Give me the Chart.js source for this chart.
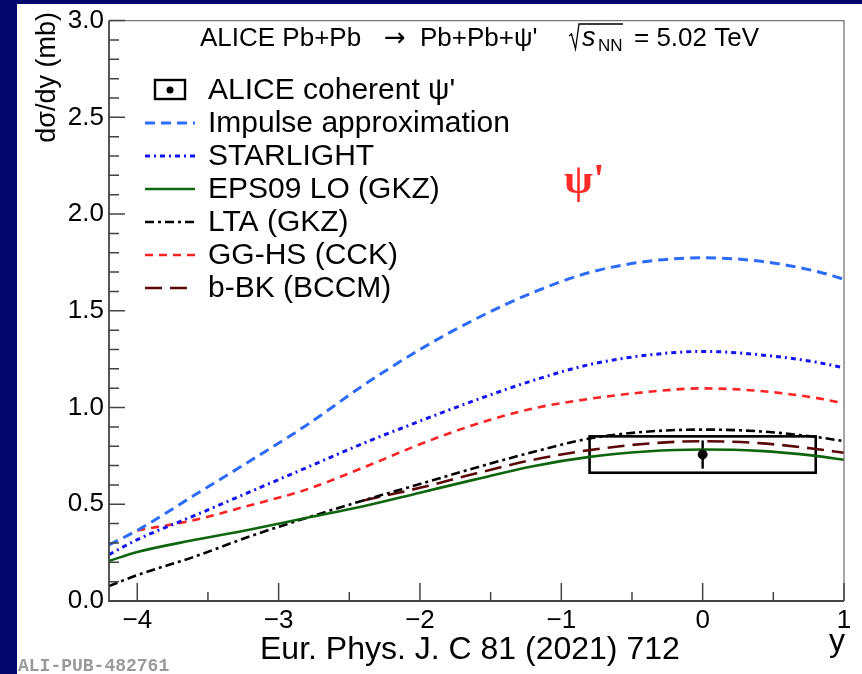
<!DOCTYPE html>
<html>
<head>
<meta charset="utf-8">
<script src="https://cdn.jsdelivr.net/npm/chart.js@4.4.1/dist/chart.umd.min.js"></script>
<style>
  html, body { margin: 0; padding: 0; background: #05056e; }
  canvas { display: block; }
</style>
</head>
<body>
<canvas id="c" width="862" height="674"></canvas>
<script>
// Rapidity grid of the model curves
const rapidity = [-4.2, -4.0, -3.6, -3.2, -2.8, -2.4, -2.0, -1.6, -1.2, -0.8, -0.4, 0, 0.4, 0.8, 1.0];

// dσ/dy (mb) of each model
const impulseApprox = [0.29, 0.365, 0.545, 0.725, 0.91, 1.115, 1.30, 1.46, 1.595, 1.698, 1.755, 1.774, 1.757, 1.705, 1.663];
const starlight     = [0.24, 0.317, 0.44, 0.565, 0.69, 0.815, 0.93, 1.04, 1.14, 1.222, 1.27, 1.29, 1.273, 1.235, 1.205];
const eps09LO       = [0.207, 0.253, 0.315, 0.37, 0.43, 0.49, 0.56, 0.63, 0.697, 0.745, 0.773, 0.783, 0.776, 0.75, 0.73];
const ltaGKZ        = [0.077, 0.134, 0.228, 0.335, 0.43, 0.52, 0.605, 0.69, 0.77, 0.84, 0.875, 0.886, 0.877, 0.848, 0.826];
const ggHS          = [null, 0.365, 0.418, 0.495, 0.577, 0.69, 0.81, 0.915, 0.995, 1.045, 1.08, 1.099, 1.086, 1.05, 1.022];
const bBK           = [null, null, null, null, null, 0.52, 0.585, 0.66, 0.73, 0.78, 0.813, 0.826, 0.816, 0.786, 0.766];

const seriesLabels = ['Impulse approximation', 'STARLIGHT', 'EPS09 LO (GKZ)', 'LTA (GKZ)', 'GG-HS (CCK)', 'b-BK (BCCM)'];

// ALICE coherent ψ' measurement
const aliceLabel = "ALICE coherent \u03c8'";
const aliceY = [0];
const aliceValue = [0.757];
const aliceStat = [0.073];
const aliceSyst = [0.094];
const aliceYLow = [-0.8];
const aliceYHigh = [0.8];

// Axis ticks
const xTickValues = [-4, -3, -2, -1, 0, 1];
const xTickLabels = ['\u22124', '\u22123', '\u22122', '\u22121', '0', '1'];
const yTickValues = [0, 0.5, 1, 1.5, 2, 2.5, 3];
const yTickLabels = ['0.0', '0.5', '1.0', '1.5', '2.0', '2.5', '3.0'];
const xMinorStep = 0.5;
const yMinorStep = 0.1;

const FONT = "'Liberation Sans', Arial, Helvetica, sans-serif";
const NAVY = '#05056e';

const styles = [
  { color: '#2d6bff', dash: [10, 6], width: 3 },
  { color: '#1414f0', dash: [5, 4, 2, 4], width: 3 },
  { color: '#0e650e', dash: [], width: 2.6 },
  { color: '#000000', dash: [9, 4, 3, 4], width: 2.6 },
  { color: '#ff2222', dash: [8, 6], width: 2.6 },
  { color: '#5a0808', dash: [17, 8], width: 2.6 }
];
const seriesValues = [impulseApprox, starlight, eps09LO, ltaGKZ, ggHS, bBK];

const curveSets = seriesValues.map((vals, i) => ({
  type: 'line',
  label: seriesLabels[i],
  data: rapidity.map((x, k) => ({ x: x, y: vals[k] })).filter(p => p.y !== null),
  borderColor: styles[i].color,
  borderDash: styles[i].dash,
  borderWidth: styles[i].width,
  pointRadius: 0,
  cubicInterpolationMode: 'monotone',
  fill: false
}));

const aliceSet = {
  type: 'scatter',
  label: aliceLabel,
  data: aliceY.map((x, k) => ({ x: x, y: aliceValue[k] })),
  pointRadius: 4.5,
  backgroundColor: '#000',
  borderColor: '#000',
  showLine: false
};

function drawHeader(ctx, base) {
  ctx.fillStyle = '#000';
  ctx.strokeStyle = '#000';
  ctx.textAlign = 'left';
  ctx.textBaseline = 'alphabetic';
  ctx.font = '26px ' + FONT;
  ctx.fillText('ALICE Pb+Pb', 200, base);
  ctx.font = '26px "DejaVu Sans", ' + FONT;
  ctx.fillText('\u2192', 384, base);
  ctx.font = '26px ' + FONT;
  ctx.fillText("Pb+Pb+\u03c8'", 420, base);

  // √s_NN = 5.02 TeV
  const x = 569;
  ctx.lineWidth = 1.3;
  ctx.beginPath();
  ctx.moveTo(x, base - 10);
  ctx.lineTo(x + 2.5, base - 12);
  ctx.lineTo(x + 6.5, base + 3);
  ctx.lineTo(x + 10, base - 22);
  ctx.lineTo(x + 54, base - 22);
  ctx.stroke();
  ctx.font = 'italic 27px ' + FONT;
  ctx.fillText('s', x + 13, base);
  ctx.font = '17px ' + FONT;
  ctx.fillText('NN', x + 29, base + 5);
  ctx.font = '26px ' + FONT;
  ctx.fillText('= 5.02 TeV', x + 65, base);
}

const rootStyle = {
  id: 'rootStyle',
  beforeDraw(chart) {
    const ctx = chart.ctx;
    ctx.save();
    ctx.fillStyle = NAVY;
    ctx.fillRect(0, 0, chart.width, chart.height);
    ctx.fillStyle = '#ffffff';
    ctx.fillRect(17, 4, chart.width - 17, chart.height - 4);
    ctx.restore();
  },
  beforeDatasetsDraw(chart) {
    const ctx = chart.ctx;
    const xs = chart.scales.x, ys = chart.scales.y;
    ctx.save();
    ctx.strokeStyle = '#000';
    for (let k = 0; k < aliceY.length; k++) {
      // systematic box
      ctx.lineWidth = 2.6;
      const x0 = xs.getPixelForValue(aliceYLow[k]);
      const x1 = xs.getPixelForValue(aliceYHigh[k]);
      const yt = ys.getPixelForValue(aliceValue[k] + aliceSyst[k]);
      const yb = ys.getPixelForValue(aliceValue[k] - aliceSyst[k]);
      ctx.strokeRect(x0, yt, x1 - x0, yb - yt);
      // statistical bar
      ctx.lineWidth = 2.4;
      const xc = xs.getPixelForValue(aliceY[k]);
      ctx.beginPath();
      ctx.moveTo(xc, ys.getPixelForValue(aliceValue[k] + aliceStat[k]));
      ctx.lineTo(xc, ys.getPixelForValue(aliceValue[k] - aliceStat[k]));
      ctx.stroke();
    }
    ctx.restore();
  },
  afterDatasetsDraw(chart) {
    const ctx = chart.ctx;
    const a = chart.chartArea;
    const xs = chart.scales.x, ys = chart.scales.y;
    ctx.save();

    // frame
    ctx.strokeStyle = '#777';
    ctx.lineWidth = 1.3;
    ctx.beginPath();
    ctx.moveTo(a.left, a.top); ctx.lineTo(a.right, a.top); ctx.lineTo(a.right, a.bottom);
    ctx.stroke();
    ctx.strokeStyle = '#444';
    ctx.lineWidth = 1.8;
    ctx.beginPath();
    ctx.moveTo(a.left, a.top); ctx.lineTo(a.left, a.bottom); ctx.lineTo(a.right, a.bottom);
    ctx.stroke();

    // ticks (inside the frame)
    ctx.strokeStyle = '#444';
    ctx.lineWidth = 1.5;
    ctx.beginPath();
    for (let v = ys.min; v <= ys.max + 1e-9; v += yMinorStep) {
      const r = Math.round(v * 10) / 10;
      const major = yTickValues.some(t => Math.abs(t - r) < 1e-6);
      const py = ys.getPixelForValue(r);
      ctx.moveTo(a.left, py);
      ctx.lineTo(a.left + (major ? 16 : 10), py);
    }
    const xStart = Math.ceil(xs.min / xMinorStep) * xMinorStep;
    for (let v = xStart; v <= xs.max + 1e-9; v += xMinorStep) {
      const major = xTickValues.some(t => Math.abs(t - v) < 1e-6);
      const px = xs.getPixelForValue(v);
      ctx.moveTo(px, a.bottom);
      ctx.lineTo(px, a.bottom - (major ? 18 : 9));
    }
    ctx.stroke();

    // header
    drawHeader(ctx, 46);

    // legend
    const lx0 = 145, lx1 = 195, tx = 208, ly0 = 90, step = 33;
    ctx.font = '30px ' + FONT;
    ctx.textAlign = 'left';
    ctx.textBaseline = 'middle';
    ctx.strokeStyle = '#000';
    ctx.lineWidth = 2.4;
    ctx.strokeRect(155, ly0 - 10, 30, 19);
    ctx.beginPath();
    ctx.arc(170, ly0, 3.5, 0, Math.PI * 2);
    ctx.fillStyle = '#000';
    ctx.fill();
    ctx.fillText(aliceLabel, tx, ly0 + 1);
    for (let i = 0; i < seriesLabels.length; i++) {
      const yy = ly0 + step * (i + 1);
      ctx.strokeStyle = styles[i].color;
      ctx.lineWidth = styles[i].width;
      ctx.setLineDash(styles[i].dash);
      ctx.beginPath();
      ctx.moveTo(lx0, yy);
      ctx.lineTo(lx1, yy);
      ctx.stroke();
      ctx.setLineDash([]);
      ctx.fillStyle = '#000';
      ctx.fillText(seriesLabels[i], tx, yy + 1);
    }

    // ψ' tag
    ctx.textBaseline = 'alphabetic';
    ctx.fillStyle = '#ff2a2a';
    ctx.font = 'bold 42px "Liberation Serif", "DejaVu Serif", serif';
    ctx.fillText("\u03c8'", 564, 193);

    // y axis title
    ctx.save();
    ctx.translate(55, 12);
    ctx.rotate(-Math.PI / 2);
    ctx.textAlign = 'right';
    ctx.fillStyle = '#000';
    ctx.font = '27px ' + FONT;
    ctx.fillText('d\u03c3/dy (mb)', 0, 0);
    ctx.restore();

    // x axis title and reference
    ctx.fillStyle = '#000';
    ctx.font = '32px ' + FONT;
    ctx.textAlign = 'right';
    ctx.fillText('y', 845, 651);
    ctx.textAlign = 'left';
    ctx.fillText('Eur. Phys. J. C 81 (2021) 712', 260, 659);

    ctx.fillStyle = '#9a9a9a';
    ctx.font = 'bold 18px "Liberation Mono", "DejaVu Sans Mono", monospace';
    ctx.fillText('ALI-PUB-482761', 18, 671);
    ctx.restore();
  }
};

new Chart(document.getElementById('c').getContext('2d'), {
  type: 'line',
  data: { datasets: [aliceSet, ...curveSets] },
  options: {
    responsive: false,
    animation: false,
    layout: { padding: { top: 16, right: 18, left: 0, bottom: 0 } },
    plugins: { legend: { display: false }, tooltip: { enabled: false } },
    scales: {
      x: {
        type: 'linear', min: -4.2, max: 1.0,
        grid: { display: false, drawTicks: false },
        border: { display: false },
        afterBuildTicks: s => { s.ticks = xTickValues.map(v => ({ value: v })); },
        afterFit: s => { s.height = 73; },
        ticks: {
          callback: v => { const i = xTickValues.indexOf(v); return i >= 0 ? xTickLabels[i] : ''; },
          font: { family: FONT, size: 26 }, color: '#000', padding: 4,
          maxRotation: 0, autoSkip: false
        }
      },
      y: {
        type: 'linear', min: 0, max: 3,
        grid: { display: false, drawTicks: false },
        border: { display: false },
        afterBuildTicks: s => { s.ticks = yTickValues.map(v => ({ value: v })); },
        afterFit: s => { s.width = 109; },
        ticks: {
          callback: v => { const i = yTickValues.indexOf(v); return i >= 0 ? yTickLabels[i] : ''; },
          font: { family: FONT, size: 26 }, color: '#000', padding: 5
        }
      }
    }
  },
  plugins: [rootStyle]
});
</script>
</body>
</html>
